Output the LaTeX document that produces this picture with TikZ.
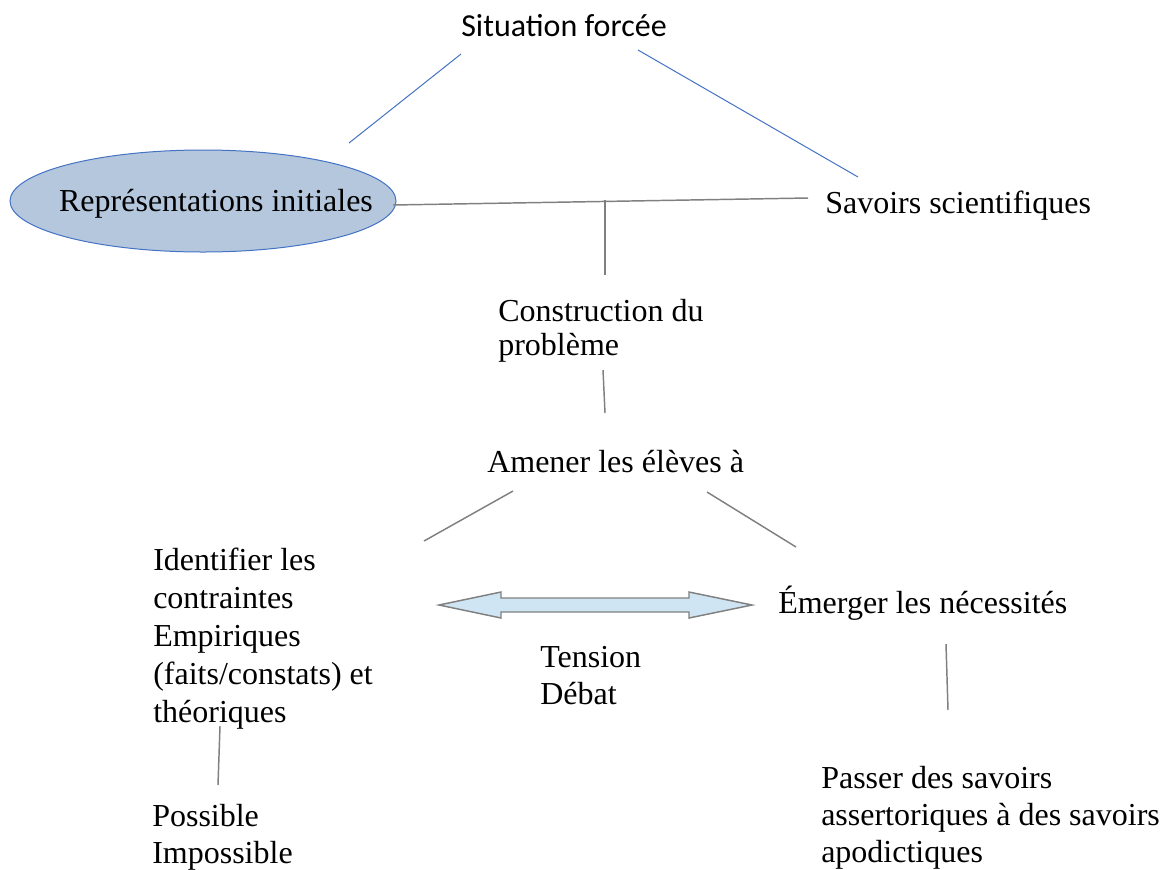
\documentclass[tikz,border=0pt]{standalone}
\usepackage{fontspec}
\setmainfont{Liberation Serif}
\newfontfamily\carlito{Carlito}
\usepackage{xcolor}
\usetikzlibrary{positioning}

\definecolor{lineblue}{HTML}{4472C4}
\definecolor{linegrey}{HTML}{808080}
\definecolor{ellfill}{HTML}{B4C7DC}
\definecolor{arrfill}{HTML}{D0E5F4}

\begin{document}
\begin{tikzpicture}[x=0.75pt,y=-0.75pt,
    txt/.style={inner sep=0pt, align=left, anchor=base west,
      font=\fontsize{24}{27.5}\selectfont},
    blueline/.style={lineblue, line width=0.75pt},
    greyline/.style={linegrey, line width=1.1pt}]
    \useasboundingbox (0,0) rectangle (1163,869);

    % Top of the triangle
    \node[txt, anchor=base, font=\carlito\fontsize{24}{28}\selectfont] (sit) at (564,36) {Situation forcée};

    % Initial representations (ellipse)
    \draw[lineblue, line width=0.75pt, fill=ellfill] (203,201) ellipse [x radius=193, y radius=51];
    \node[txt, anchor=base] (rep) at (216,211) {Représentations initiales};

    % Scientific knowledge
    \node[txt] (sav) at (825,213) {Savoirs scientifiques};

    % Problem construction (base = last line)
    \node[txt, font=\fontsize{24}{25.5}\selectfont] (cons) at (498,355) {Construction du\\problème};
    \node[txt] (amen) at (487,472) {Amener les élèves à};

    % Two branches
    \node[txt, font=\fontsize{24}{28.4}\selectfont] (ident) at (153,722) {Identifier les\\contraintes\\Empiriques\\(faits/constats) et\\théoriques};
    \node[txt] (emer) at (778,613) {Émerger les nécessités};
    \node[txt] (tens) at (540,704) {Tension\\Débat};
    \node[txt] (poss) at (152,863) {Possible\\Impossible};
    \node[txt, font=\fontsize{24}{27.4}\selectfont] (pass) at (821,862) {Passer des savoirs\\assertoriques à des savoirs\\apodictiques};

    % Line ends
    \coordinate (sitL) at (461,54);
    \coordinate (repT) at (349,143);
    \coordinate (sitR) at (638,50);
    \coordinate (savT) at (858,177);
    \coordinate (repR) at (393,205);
    \coordinate (savL) at (808,198);
    \coordinate (consT) at (605,200);
    \coordinate (consU) at (605,275);
    \coordinate (consB) at (603,370);
    \coordinate (amenT) at (605,413);
    \coordinate (amenL) at (513,491);
    \coordinate (identT) at (424,541);
    \coordinate (amenR) at (707,492);
    \coordinate (emerT) at (796,547);
    \coordinate (emerB) at (946,644);
    \coordinate (passT) at (948,710);
    \coordinate (identB) at (220,726);
    \coordinate (possT) at (218,785);

    % Connectors
    \draw[blueline] (sitL) -- (repT);
    \draw[blueline] (sitR) -- (savT);
    \draw[greyline] (repR) -- (savL);
    \draw[greyline] (consT) -- (consU);
    \draw[greyline] (consB) -- (amenT);
    \draw[greyline] (amenL) -- (identT);
    \draw[greyline] (amenR) -- (emerT);
    \draw[greyline] (emerB) -- (passT);
    \draw[greyline] (identB) -- (possT);

    % Tension arrow
    \draw[linegrey, line width=1.1pt, fill=arrfill, line join=miter]
      (439,605) -- (501,592) -- (501,598) -- (689,598) -- (689,592) -- (752,605)
      -- (689,618) -- (689,612) -- (501,612) -- (501,618) -- cycle;
\end{tikzpicture}
\end{document}
